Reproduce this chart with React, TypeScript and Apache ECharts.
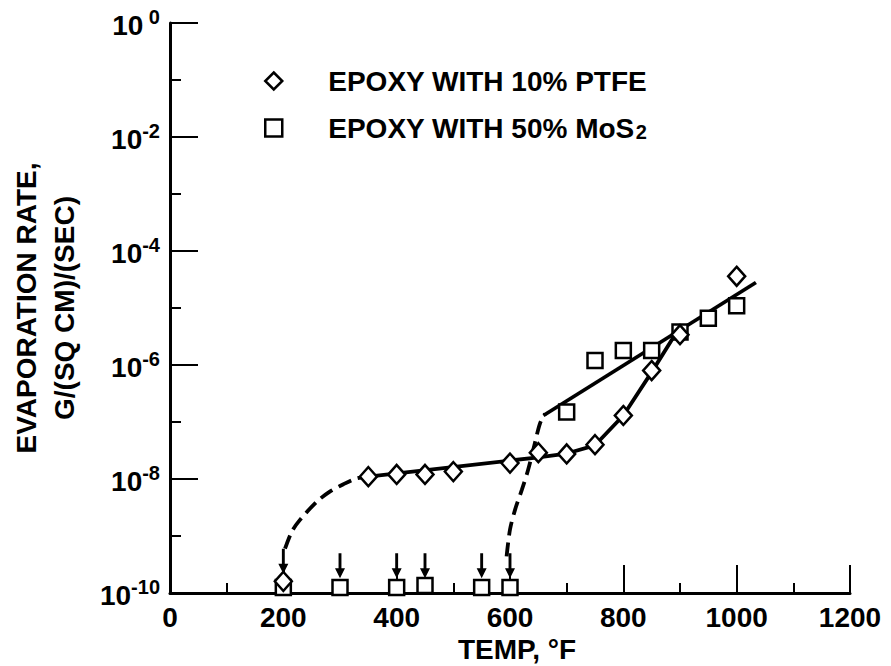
import React, { useEffect, useRef } from "react";
import * as echarts from "echarts";

const FONT = "Liberation Sans";

// Measured points
const ptfeTemps = [200, 350, 400, 450, 500, 600, 650, 700, 750, 800, 850, 900, 1000];
const ptfeRates = [1.6e-10, 1.1e-8, 1.2e-8, 1.2e-8, 1.35e-8, 1.9e-8, 2.9e-8, 2.75e-8, 4.0e-8, 1.3e-7, 8.0e-7, 3.4e-6, 3.6e-5];

const mosTemps = [200, 300, 400, 450, 550, 600, 700, 750, 800, 850, 900, 950, 1000];
const mosRates = [1.25e-10, 1.25e-10, 1.25e-10, 1.35e-10, 1.25e-10, 1.25e-10, 1.5e-7, 1.2e-6, 1.8e-6, 1.8e-6, 3.8e-6, 6.6e-6, 1.1e-5];

// Fitted curves
const ptfeSolidTemps = [350, 650, 700, 750, 800, 850, 895];
const ptfeSolidRates = [1.1e-8, 2.4e-8, 2.8e-8, 3.9e-8, 1.3e-7, 7.5e-7, 3.9e-6];

const ptfeDashTemps = [203, 215, 229, 259, 282, 306, 329, 350];
const ptfeDashRates = [6.0e-10, 1.2e-9, 1.9e-9, 4.0e-9, 6.0e-9, 8.1e-9, 1.02e-8, 1.1e-8];

const mosSolidTemps = [659, 1034];
const mosSolidRates = [1.3e-7, 2.8e-5];

const mosDashTemps = [594, 600, 609, 621, 632, 644, 653, 662];
const mosDashRates = [4.4e-10, 1.3e-9, 2.9e-9, 6.5e-9, 1.45e-8, 4.3e-8, 9.5e-8, 1.4e-7];

// "below detection" arrows
const arrowTemps = [200, 300, 400, 450, 550, 600];
const arrowRates = [3.6e-10, 3.0e-10, 3.0e-10, 3.0e-10, 3.0e-10, 3.0e-10];

const xMin = 0;
const xMax = 1200;
const xStep = 200;
const yMin = 1e-10;
const yMax = 1;

const PTFE_NAME = "EPOXY WITH 10% PTFE";
const MOS_NAME = "EPOXY WITH 50% MoS2";

const zip = (xs: number[], ys: number[]) => xs.map((x, i) => [x, ys[i]]);

const ARROW = "path://M3.7,0 L6.3,0 L6.3,15 L9.5,15 L5,25 L0.5,15 L3.7,15 Z";

export default function App() {
  const ref = useRef<HTMLDivElement>(null);
  useEffect(() => {
    if (!ref.current) return;
    const chart = echarts.init(ref.current, null, { renderer: "svg" });
    const markerStyle = { color: "#fff", borderColor: "#000", borderWidth: 2.5, opacity: 1 };
    const option: any = {
      animation: false,
      backgroundColor: "#fff",
      textStyle: { fontFamily: FONT, color: "#000" },
      grid: { left: 170, top: 23, width: 680, height: 570, containLabel: false, outerBoundsMode: "none" },
      legend: {
        orient: "vertical",
        left: 259,
        top: 62,
        itemWidth: 17,
        itemHeight: 17,
        itemGap: 17,
        selectedMode: false,
        data: [
          { name: PTFE_NAME, icon: "diamond" },
          { name: MOS_NAME, icon: "rect" },
        ],
        itemStyle: { color: "#fff", borderColor: "#000", borderWidth: 2.5, opacity: 1 },
        formatter: (name: string) =>
          name === MOS_NAME ? "{t|EPOXY WITH 50% MoS}{sub|2}" : "{t|" + name + "}",
        textStyle: {
          padding: [0, 0, 0, 41],
          rich: {
            t: { fontFamily: FONT, fontWeight: "bold", fontSize: 28, lineHeight: 28, color: "#000", verticalAlign: "middle" },
            sub: { fontFamily: FONT, fontWeight: "bold", fontSize: 20, lineHeight: 28, color: "#000", verticalAlign: "bottom", padding: [10, 0, 0, 1] },
          },
        },
      },
      xAxis: {
        type: "value",
        min: xMin,
        max: xMax,
        interval: xStep,
        name: "TEMP, °F",
        nameLocation: "middle",
        nameGap: 39,
        nameTextStyle: { fontFamily: FONT, fontWeight: "bold", fontSize: 28, color: "#000", padding: [0, 0, 0, 14] },
        axisLine: { show: true, onZero: false, lineStyle: { color: "#000", width: 3 } },
        axisTick: { show: true, inside: true, length: 28, lineStyle: { color: "#000", width: 2 } },
        minorTick: { show: true, splitNumber: 2, length: 10, lineStyle: { color: "#000", width: 2 } },
        axisLabel: {
          margin: 10,
          fontFamily: FONT,
          fontWeight: "bold",
          fontSize: 28,
          color: "#000",
          formatter: (v: number) => String(v),
        },
        splitLine: { show: false },
      },
      yAxis: [
        {
          type: "log",
          logBase: 10,
          min: yMin,
          max: yMax,
          interval: 2,
          name: "EVAPORATION RATE,\nG/(SQ CM)/(SEC)",
          nameLocation: "middle",
          nameRotate: 90,
          nameGap: 87,
          nameTextStyle: { fontFamily: FONT, fontWeight: "bold", fontSize: 28, lineHeight: 38, color: "#000" },
          axisLine: { show: true, lineStyle: { color: "#000", width: 3 } },
          axisTick: { show: true, inside: true, length: 28, lineStyle: { color: "#000", width: 2 } },
          axisLabel: {
            margin: 10,
            formatter: (v: number) => {
              const e = Math.round(Math.log10(v));
              return "{b|10}{s|" + (e === 0 ? " 0" : String(e)) + "}";
            },
            rich: {
              b: { fontFamily: FONT, fontWeight: "bold", fontSize: 28, lineHeight: 32, color: "#000", verticalAlign: "bottom" },
              s: { fontFamily: FONT, fontWeight: "bold", fontSize: 20, lineHeight: 32, color: "#000", verticalAlign: "top" },
            },
          },
          splitLine: { show: false },
        },
        {
          type: "log",
          logBase: 10,
          min: yMin,
          max: yMax,
          interval: 1,
          position: "left",
          offset: 0,
          axisLine: { show: false },
          axisTick: { show: true, inside: true, length: 11, lineStyle: { color: "#000", width: 2 } },
          axisLabel: { show: false },
          splitLine: { show: false },
        },
      ],
      series: [
        {
          type: "line",
          name: "ptfe-fit-dash",
          data: zip(ptfeDashTemps, ptfeDashRates),
          smooth: 0.3,
          showSymbol: false,
          lineStyle: { color: "#000", width: 3.8, type: [14, 7] },
          z: 2,
        },
        {
          type: "line",
          name: "ptfe-fit",
          data: zip(ptfeSolidTemps, ptfeSolidRates),
          showSymbol: false,
          lineStyle: { color: "#000", width: 3.8 },
          z: 2,
        },
        {
          type: "line",
          name: "mos-fit-dash",
          data: zip(mosDashTemps, mosDashRates),
          smooth: 0.3,
          showSymbol: false,
          lineStyle: { color: "#000", width: 3.8, type: [14, 7] },
          z: 2,
        },
        {
          type: "line",
          name: "mos-fit",
          data: zip(mosSolidTemps, mosSolidRates),
          showSymbol: false,
          lineStyle: { color: "#000", width: 3.8 },
          z: 2,
        },
        {
          type: "scatter",
          name: "arrows",
          data: zip(arrowTemps, arrowRates),
          symbol: ARROW,
          symbolSize: [10, 25],
          itemStyle: { color: "#000", opacity: 1 },
          z: 3,
        },
        {
          type: "scatter",
          name: MOS_NAME,
          data: zip(mosTemps, mosRates),
          symbol: "rect",
          symbolSize: 15,
          itemStyle: markerStyle,
          z: 4,
        },
        {
          type: "scatter",
          name: PTFE_NAME,
          data: zip(ptfeTemps, ptfeRates),
          symbol: "diamond",
          symbolSize: [17, 19],
          itemStyle: markerStyle,
          z: 5,
        },
      ],
    };
    chart.setOption(option);
    return () => chart.dispose();
  }, []);
  return (
    <div
      ref={ref}
      style={{ position: "fixed", left: 0, top: 0, width: 891, height: 666, background: "#fff" }}
    />
  );
}
